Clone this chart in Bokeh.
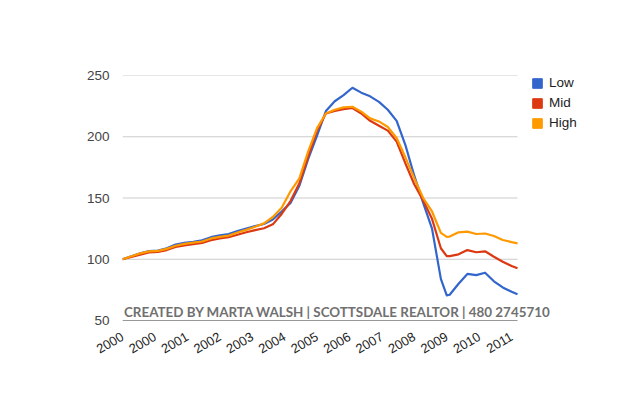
import math
from bokeh.plotting import figure
from bokeh.models import (Range1d, FixedTicker, Legend, LegendItem, Label)
from bokeh.embed import file_html
from bokeh.resources import INLINE

# Month index since Jan 2000 (quarterly readings)
months = [0, 3, 6, 9, 12, 15, 18, 21, 24, 27, 30, 33, 36, 39, 42, 45, 48, 51,
          54, 57, 60, 63, 66, 69, 72, 75, 78, 81, 84, 87, 90, 93, 96, 99, 102,
          105, 108, 110, 111, 114, 117, 120, 123, 126, 129, 132, 134]

low = [100, 102.5, 104.8, 106.6, 107, 109, 112, 113.3, 114.3, 115.5, 118, 119.5,
       120.5, 123, 125, 127, 128.8, 132.5, 139, 146, 160, 182, 201, 221, 229,
       234, 240, 236, 233, 228.5, 222, 213, 193, 168, 146, 125, 84, 70.5, 71,
       80, 88, 87, 89, 82, 77, 73.5, 71.4]

mid = [100, 101.8, 103.8, 105.6, 106, 107.5, 110, 111.3, 112.3, 113.3, 115.5,
       117, 118, 120, 122, 123.8, 125.3, 128.5, 137, 147.5, 162, 184, 205, 219,
       221, 222.5, 223.5, 219, 213, 209, 205, 196, 178, 161, 148, 133, 109,
       102.5, 102.5, 104, 107.5, 105.7, 106.5, 102, 98, 94.5, 92.6]

high = [100, 102.5, 104.8, 106.4, 106.8, 108.5, 111, 112.5, 113.5, 114.5, 117,
        118.3, 119.3, 121.8, 124, 126.5, 129.3, 134.5, 142, 155.5, 166, 188,
        207, 219, 222, 224, 224.5, 220.5, 215, 212.5, 208, 199, 183, 166, 150,
        139, 121.5, 118.3, 118.5, 122, 122.5, 120.6, 121, 119, 115.7, 114, 113]

series_names = ["Low", "Mid", "High"]
series_colors = ["#3366cc", "#dc3912", "#ff9900"]

tick_months = [0, 11, 22, 33, 44, 55, 66, 77, 88, 99, 110, 121, 132]
tick_labels = ["2000", "2000", "2001", "2002", "2003", "2004", "2005", "2006",
               "2007", "2008", "2009", "2010", "2011"]

y_ticks = [50, 100, 150, 200, 250]
watermark = "CREATED BY MARTA WALSH | SCOTTSDALE REALTOR | 480 2745710"

# layout: data area is 395px wide; frame extends further right to hold legend
data_w = 395
left_b, top_b, frame_w, frame_h = 122, 75, 492, 245
W, H = 624, 380
x_end = months[-1] * frame_w / data_w

p = figure(width=W, height=H, output_backend="svg", toolbar_location=None,
           x_range=Range1d(0, x_end), y_range=Range1d(y_ticks[0], y_ticks[-1]),
           min_border_left=left_b, min_border_right=W - left_b - frame_w,
           min_border_top=top_b, min_border_bottom=H - top_b - frame_h)
p.outline_line_color = None
p.background_fill_color = "white"
p.border_fill_color = "white"

# gridlines limited to the data span
n = len(y_ticks) - 1
p.segment(x0=[months[0]] * n, x1=[months[-1]] * n, y0=y_ticks[1:], y1=y_ticks[1:],
          line_color="#cccccc", line_width=1)
p.segment(x0=[months[0]], x1=[months[-1]], y0=[y_ticks[0]], y1=[y_ticks[0]],
          line_color="#333333", line_width=1.2)

for vals, c in zip([low, mid, high], series_colors):
    p.line(months, vals, line_color=c, line_width=2.2, line_join="round")

nan = float("nan")
legend_items = []
for name, c in zip(series_names, series_colors):
    r = p.quad(left=[nan], right=[nan], top=[nan], bottom=[nan],
               fill_color=c, line_color=c)
    legend_items.append(LegendItem(label=name, renderers=[r]))

legend = Legend(items=legend_items, location=(409, 190),
                glyph_width=12, glyph_height=12, label_height=15,
                spacing=5, padding=0, margin=0,
                label_text_font="Liberation Sans", label_text_font_size="13.5px",
                label_text_color="#222222", label_standoff=6,
                border_line_color=None, background_fill_alpha=0)
p.add_layout(legend)

p.xgrid.grid_line_color = None
p.ygrid.grid_line_color = None

p.yaxis.ticker = FixedTicker(ticks=y_ticks)
p.yaxis.axis_line_color = None
p.yaxis.major_tick_line_color = None
p.yaxis.minor_tick_line_color = None
p.yaxis.major_label_text_font = "Liberation Sans"
p.yaxis.major_label_text_font_size = "13.5px"
p.yaxis.major_label_text_color = "#444444"
p.yaxis.major_label_standoff = 7

p.xaxis.ticker = FixedTicker(ticks=tick_months)
p.xaxis.major_label_overrides = {m: l for m, l in zip(tick_months, tick_labels)}
p.xaxis.axis_line_color = None
p.xaxis.major_tick_line_color = None
p.xaxis.minor_tick_line_color = None
p.xaxis.major_label_orientation = math.pi / 6
p.xaxis.major_label_text_font = "Liberation Sans"
p.xaxis.major_label_text_font_size = "13px"
p.xaxis.major_label_text_color = "#222222"
p.xaxis.major_label_standoff = 9

wm = Label(x=0.5, y=57.0, text=watermark, text_font="Lato",
           text_font_style="bold", text_font_size="13.4px",
           text_color="#707070", text_baseline="middle", text_align="left")
p.add_layout(wm)

open("out.html", "w").write(file_html(p, INLINE))
